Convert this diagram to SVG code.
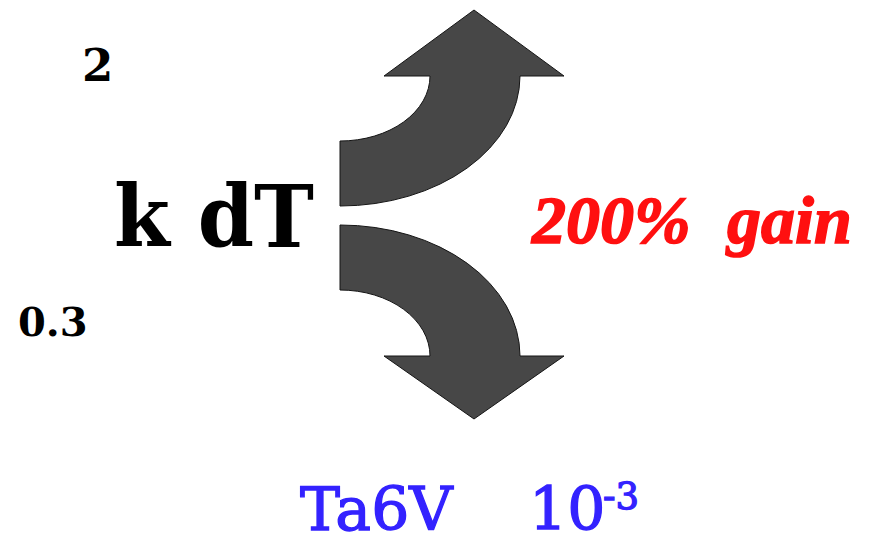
<svg xmlns="http://www.w3.org/2000/svg" width="870" height="535" viewBox="0 0 870 535">
  <style>
    .arrow { fill: #474747; stroke: #151515; stroke-width: 1; stroke-linejoin: miter; }
    .serif { font-family: "DejaVu Serif", "Liberation Serif", serif; }
    .black { fill: #000000; }
    .blue { fill: #3322ff; stroke: #3322ff; stroke-width: 1.3; }
    .red { fill: #ff1010; stroke: #ff1010; stroke-width: 1.6; font-family: "Liberation Serif", "DejaVu Serif", serif; font-weight: bold; font-style: italic; }
  </style>
  <rect width="870" height="535" fill="#ffffff"/>

  <!-- labels on the left -->
  <g id="label-exponent">
    <text class="serif black" x="82" y="81" font-size="45" font-weight="bold">2</text>
  </g>
  <g id="label-kdT">
    <text class="serif black" x="114" y="247" font-size="86" font-weight="bold" textLength="200" lengthAdjust="spacingAndGlyphs">k dT</text>
  </g>
  <g id="label-ratio">
    <text class="serif black" x="18" y="336" font-size="40" font-weight="bold">0.3</text>
  </g>

  <!-- curved split arrows -->
  <g id="arrows">
    <path id="arrow-up" class="arrow" d="M340,141 A90,65 0 0 0 430,76 L384,76 L474,10 L564,76 L520,76 A180,130 0 0 1 340,206 Z"/>
    <path id="arrow-down" class="arrow" d="M340,225 A180,131 0 0 1 520,356 L564,356 L474,419 L384,356 L430,356 A90,66 0 0 0 340,290 Z"/>
  </g>

  <g id="label-gain">
    <text class="red" x="532" y="243" font-size="68">200%<tspan x="727">gain</tspan></text>
  </g>

  <g id="label-material">
    <text class="serif blue" x="300" y="530" font-size="60">Ta6V</text>
    <text class="serif blue" x="529" y="530" font-size="60">10</text>
    <text class="serif blue" x="603" y="509" font-size="37">-3</text>
  </g>
</svg>
